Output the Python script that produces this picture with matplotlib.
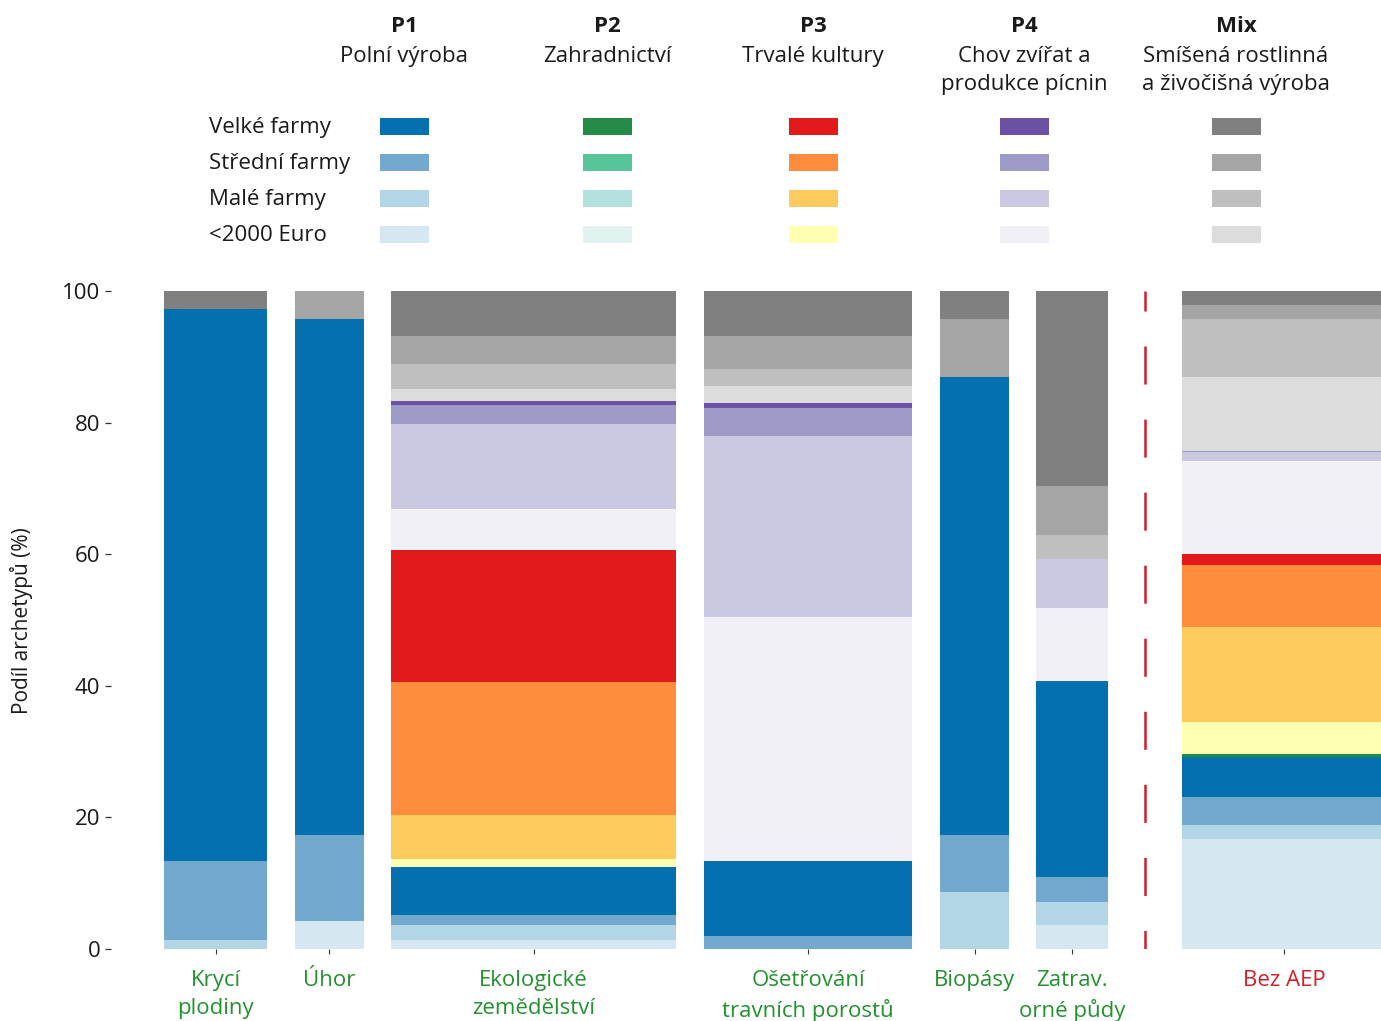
import numpy as np
import matplotlib
matplotlib.use('Agg')
import matplotlib.pyplot as plt
from matplotlib.patches import Rectangle

plt.rcParams['font.family'] = ['Open Sans', 'DejaVu Sans']
plt.rcParams['lines.scale_dashes'] = False

W, H = 1381, 1021
text_color = '#1a1a1a'
font_size = 16

# Colour for every archetype: group -> [Velké, Střední, Malé, <2000 Euro]
sizes = ['Velké farmy', 'Střední farmy', 'Malé farmy', '<2000 Euro']
groups = ['P1', 'P2', 'P3', 'P4', 'Mix']
group_titles = ['Polní výroba', 'Zahradnictví', 'Trvalé kultury',
                'Chov zvířat a\nprodukce pícnin',
                'Smíšená rostlinná\na živočišná výroba']
palette = {
    'P1': ['#0570b0', '#74a9cf', '#b3d6e6', '#d5e7f1'],
    'P2': ['#238b45', '#56c59a', '#b2e2e0', '#e0f3f1'],
    'P3': ['#e31a1c', '#fd8d3c', '#fdcb5d', '#ffffb2'],
    'P4': ['#6a51a3', '#9e9ac8', '#cbc9e2', '#f1f0f6'],
    'Mix': ['#808080', '#a5a5a5', '#bfbfbf', '#dcdcdc'],
}

# Bars: (group, size index, share in %), from the bottom up
kryci_plodiny = [('P1', 2, 1.3), ('P1', 1, 12.1), ('P1', 0, 83.9), ('Mix', 0, 2.7)]
uhor = [('P1', 3, 4.3), ('P1', 1, 13.0), ('P1', 0, 78.4), ('Mix', 1, 4.3)]
ekologicke = [('P1', 3, 1.4), ('P1', 2, 2.2), ('P1', 1, 1.5), ('P1', 0, 7.4),
              ('P3', 3, 1.2), ('P3', 2, 6.7), ('P3', 1, 20.2), ('P3', 0, 20.1),
              ('P4', 3, 6.2), ('P4', 2, 12.9), ('P4', 1, 2.9), ('P4', 0, 0.6),
              ('Mix', 3, 1.8), ('Mix', 2, 3.8), ('Mix', 1, 4.3), ('Mix', 0, 6.8)]
osetrovani = [('P1', 1, 2.0), ('P1', 0, 11.4),
              ('P4', 3, 37.1), ('P4', 2, 27.4), ('P4', 1, 4.3), ('P4', 0, 0.8),
              ('Mix', 3, 2.6), ('Mix', 2, 2.6), ('Mix', 1, 4.9), ('Mix', 0, 6.9)]
biopasy = [('P1', 2, 8.6), ('P1', 1, 8.7), ('P1', 0, 69.7), ('Mix', 1, 8.7), ('Mix', 0, 4.3)]
zatravneni = [('P1', 3, 3.6), ('P1', 2, 3.6), ('P1', 1, 3.8), ('P1', 0, 29.7),
              ('P4', 3, 11.1), ('P4', 2, 7.4),
              ('Mix', 2, 3.7), ('Mix', 1, 7.5), ('Mix', 0, 29.6)]
bez_aep = [('P1', 3, 16.7), ('P1', 2, 2.2), ('P1', 1, 4.2), ('P1', 0, 6.1),
           ('P2', 0, 0.5),
           ('P3', 3, 4.8), ('P3', 2, 14.4), ('P3', 1, 9.4), ('P3', 0, 1.7),
           ('P4', 3, 14.1), ('P4', 2, 1.4), ('P4', 1, 0.2),
           ('Mix', 3, 11.2), ('Mix', 2, 8.8), ('Mix', 1, 2.2), ('Mix', 0, 2.1)]

bars = [kryci_plodiny, uhor, ekologicke, osetrovani, biopasy, zatravneni, bez_aep]
bar_labels = ['Krycí\nplodiny', 'Úhor', 'Ekologické\nzemědělství',
              'Ošetřování\ntravních porostů', 'Biopásy', 'Zatrav.\norné půdy', 'Bez AEP']
label_colors = ['#23922e'] * 6 + ['#d42027']

# Bar widths (px) and spacing
bar_widths = np.array([103, 69, 285, 208, 69, 72, 204])
gaps = np.array([27.5, 27.5, 28, 28, 27, 74])
lefts = 53 + np.concatenate([[0], np.cumsum(bar_widths[:-1] + gaps)])
centers = lefts + bar_widths / 2

fig = plt.figure(figsize=(W / 100, H / 100), dpi=100)
ax = fig.add_axes([111 / W, (H - 949) / H, 1270 / W, 658 / H])

for bar, left, width in zip(bars, lefts, bar_widths):
    bottom = 0
    for group, size, share in bar:
        ax.bar(left, share, width=width, bottom=bottom, align='edge',
               color=palette[group][size], linewidth=0)
        bottom += share

# dashed separator before the "Bez AEP" bar
sep_x = (lefts[-2] + bar_widths[-2] + lefts[-1]) / 2
ax.plot([sep_x, sep_x], [100, 0], color='#cf1f2a', lw=1.8,
        linestyle=(13, (27.4, 25.2)))

ax.axhline(-0.35, xmin=0.005, color='#eeeeee', lw=1)

ax.set_xlim(0, 1270)
ax.set_ylim(0, 100)
for s in ax.spines.values():
    s.set_visible(False)

ax.set_yticks([0, 20, 40, 60, 80, 100])
ax.tick_params(axis='y', length=4.3, width=0.9, color='#333333', pad=3.5,
               labelsize=font_size, labelcolor=text_color)
ax.set_xticks(centers)
ax.set_xticklabels(bar_labels, fontsize=font_size, linespacing=1.45)
for lbl, c in zip(ax.get_xticklabels(), label_colors):
    lbl.set_color(c)
ax.tick_params(axis='x', length=3.5, width=0.8, color='#333333', pad=11.5)

fig.text(22 / W, 1 - 621 / H, 'Podíl archetypů (%)', rotation=90,
         ha='center', va='center', fontsize=15, color=text_color)

# Legend at the top
group_x = [404, 607, 813, 1024, 1236]
row_y = [127, 163, 198.5, 234.5]
for gx, g, title in zip(group_x, groups, group_titles):
    fig.text(gx / W, 1 - 27 / H, g, ha='center', va='center',
             fontsize=font_size, fontweight='bold', color=text_color)
    fig.text(gx / W, 1 - 46 / H, title, ha='center', va='top',
             fontsize=font_size, color=text_color, linespacing=1.45)
    for i, ry in enumerate(row_y):
        fig.add_artist(Rectangle(((gx - 24.5) / W, 1 - (ry + 8.5) / H), 49 / W, 17 / H,
                                 transform=fig.transFigure,
                                 facecolor=palette[g][i], linewidth=0))
for ry, name in zip(row_y, sizes):
    fig.text(209 / W, 1 - (ry + 1) / H, name, ha='left', va='center',
             fontsize=font_size, color=text_color)

fig.savefig('out.png', dpi=100)
